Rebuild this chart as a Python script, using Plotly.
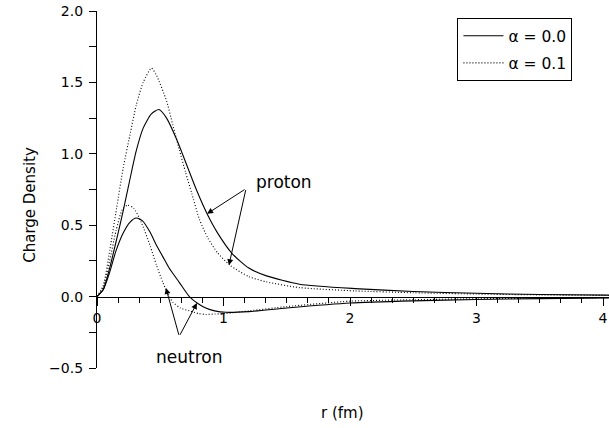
import plotly.graph_objects as go

# ---- data ----
r_p0 = [0, 0.05, 0.1, 0.155, 0.207, 0.26, 0.31, 0.365, 0.43, 0.49, 0.55, 0.63, 0.71, 0.785, 0.87, 0.95, 1.07, 1.2, 1.34, 1.6, 2.04, 2.5, 3.0, 3.5, 4.05]
p_a00 = [0, 0.05, 0.2, 0.4, 0.6, 0.82, 1.02, 1.18, 1.28, 1.31, 1.25, 1.1, 0.92, 0.75, 0.58, 0.45, 0.3, 0.2, 0.145, 0.087, 0.056, 0.036, 0.023, 0.015, 0.01]

r_p1 = [0, 0.05, 0.102, 0.155, 0.207, 0.26, 0.31, 0.365, 0.43, 0.47, 0.55, 0.6, 0.65, 0.7, 0.75, 0.81, 0.876, 0.95, 1.05, 1.2, 1.34, 1.6, 2.04, 2.5, 3.0, 3.5, 4.05]
p_a01 = [0, 0.08, 0.33, 0.62, 0.9, 1.13, 1.34, 1.5, 1.6, 1.55, 1.37, 1.2, 1.03, 0.87, 0.72, 0.54, 0.41, 0.31, 0.22, 0.14, 0.103, 0.063, 0.04, 0.027, 0.018, 0.012, 0.008]

r_n0 = [0, 0.05, 0.1, 0.15, 0.21, 0.26, 0.31, 0.36, 0.42, 0.47, 0.52, 0.57, 0.65, 0.73, 0.8, 0.86, 0.93, 1.02, 1.2, 1.5, 2.0, 2.5, 3.0, 3.5, 4.05]
n_a00 = [0, 0.05, 0.17, 0.32, 0.45, 0.52, 0.55, 0.53, 0.45, 0.36, 0.28, 0.2, 0.1, 0.0, -0.05, -0.08, -0.1, -0.11, -0.105, -0.08, -0.045, -0.03, -0.02, -0.014, -0.01]

r_n1 = [0, 0.05, 0.1, 0.15, 0.2, 0.24, 0.29, 0.35, 0.42, 0.47, 0.52, 0.56, 0.6, 0.66, 0.73, 0.8, 0.86, 0.93, 1.02, 1.2, 1.5, 2.0, 2.5, 3.0, 3.5, 4.05]
n_a01 = [0, 0.07, 0.25, 0.46, 0.61, 0.64, 0.62, 0.52, 0.356, 0.22, 0.1, 0.02, -0.04, -0.08, -0.1, -0.118, -0.125, -0.122, -0.118, -0.1, -0.07, -0.032, -0.022, -0.015, -0.011, -0.008]

legend_names = ["\u03b1 = 0.0", "\u03b1 = 0.1"]
x_ticks = [0, 1, 2, 3, 4]
y_ticks = [-0.5, 0.0, 0.5, 1.0, 1.5, 2.0]
y_tick_text = ["\u22120.5", "0.0", "0.5", "1.0", "1.5", "2.0"]

FONT = "DejaVu Sans"
line_solid = dict(color="black", width=1.1, shape="spline", smoothing=0.6)
line_dot = dict(color="black", width=1.1, dash="1px,2px", shape="spline", smoothing=0.6)

fig = go.Figure()
fig.add_trace(go.Scatter(x=r_p0, y=p_a00, mode="lines", line=line_solid, name=legend_names[0], legendgroup="a0"))
fig.add_trace(go.Scatter(x=r_p1, y=p_a01, mode="lines", line=line_dot, name=legend_names[1], legendgroup="a1"))
fig.add_trace(go.Scatter(x=r_n0, y=n_a00, mode="lines", line=line_solid, name=legend_names[0], showlegend=False, legendgroup="a0"))
fig.add_trace(go.Scatter(x=r_n1, y=n_a01, mode="lines", line=line_dot, name=legend_names[1], showlegend=False, legendgroup="a1"))

def arrow(x, y, ax, ay):
    fig.add_annotation(x=x, y=y, ax=ax, ay=ay, xref="x", yref="y", axref="x", ayref="y",
                       text="", showarrow=True, arrowhead=2, arrowsize=1.2, arrowwidth=1,
                       arrowcolor="black", standoff=0, startstandoff=0)

# proton arrows
arrow(0.87, 0.58, 1.178, 0.756)
arrow(1.043, 0.22, 1.178, 0.756)
# neutron arrows
arrow(0.545, 0.06, 0.65, -0.278)
arrow(0.79, -0.045, 0.65, -0.278)

fig.add_annotation(x=1.178, y=0.805, xref="x", yref="y", text="proton", showarrow=False,
                   xanchor="left", yanchor="middle", xshift=8, font=dict(family=FONT, size=17, color="black"))
fig.add_annotation(x=0.727, y=-0.42, xref="x", yref="y", text="neutron", showarrow=False,
                   xanchor="center", yanchor="middle", font=dict(family=FONT, size=17, color="black"))

fig.add_annotation(x=-0.131, y=0.457, xref="paper", yref="paper", text="Charge Density", textangle=-90,
                   showarrow=False, xanchor="center", yanchor="middle", font=dict(family=FONT, size=15, color="black"))
fig.add_annotation(x=0.48, y=-0.125, xref="paper", yref="paper", text="r (fm)",
                   showarrow=False, xanchor="center", yanchor="middle", font=dict(family=FONT, size=15, color="black"))

fig.update_layout(
    width=609, height=428,
    margin=dict(l=97, r=0, t=11, b=60, autoexpand=False),
    paper_bgcolor="white", plot_bgcolor="white",
    showlegend=True,
    legend=dict(x=0.704, y=0.98, xanchor="left", yanchor="top", bordercolor="black", borderwidth=1,
                bgcolor="white", font=dict(family=FONT, size=15.5, color="black"), tracegroupgap=4,
                itemwidth=40),
    font=dict(family=FONT, size=14, color="black"),
)
fig.update_xaxes(range=[0, 4.047], anchor="free", position=0.2, automargin=False,
                 showline=True, linecolor="black", linewidth=1.2,
                 showgrid=False, zeroline=False, tickmode="array", tickvals=x_ticks,
                 ticks="outside", ticklen=8, tickwidth=1, tickcolor="black", ticklabeloverflow="allow",
                 minor=dict(dtick=1/6, tick0=0, ticks="outside", ticklen=5, tickwidth=1, tickcolor="black"),
                 tickfont=dict(family=FONT, size=14, color="black"))
fig.update_yaxes(range=[-0.5, 2.0], automargin=False, showline=True, linecolor="black", linewidth=1.2,
                 showgrid=False, zeroline=False,
                 tickmode="array", tickvals=y_ticks, ticktext=y_tick_text, ticklabeloverflow="allow",
                 ticks="outside", ticklen=7, tickwidth=1, tickcolor="black", ticklabelstandoff=3,
                 minor=dict(dtick=0.25, tick0=0, ticks="outside", ticklen=7, tickwidth=1, tickcolor="black"),
                 tickfont=dict(family=FONT, size=14, color="black"))

# remove the page's default 8px body margin so the 609x428 figure fills the window exactly
fig.write_html("out.html", config={"displayModeBar": False},
               post_script="document.body.style.margin='0';")
